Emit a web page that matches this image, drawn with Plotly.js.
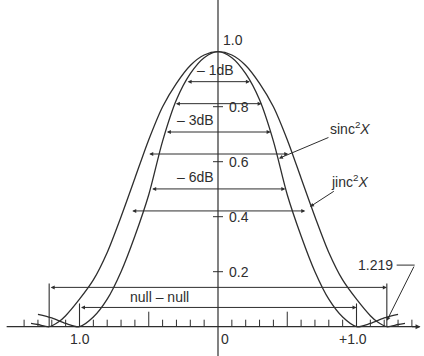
<!DOCTYPE html>
<html>
<head>
<meta charset="utf-8">
<script src="https://cdn.plot.ly/plotly-3.0.1.min.js"></script>
<style>
  html, body { margin: 0; padding: 0; background: #fff; }
  #chart { width: 424px; height: 356px; }
</style>
</head>
<body>
<div id="chart"></div>
<script>
// Main-lobe profiles (relative amplitude) along the normalised X axis
const sincX = [-1.30, -1.20, -1.10, -1.00, -0.90, -0.80, -0.70, -0.60, -0.50, -0.40, -0.30, -0.20, -0.10, 0.00,
               0.10, 0.20, 0.30, 0.40, 0.50, 0.60, 0.70, 0.80, 0.90, 1.00, 1.10, 1.20, 1.30];
const sincY = [0.045, 0.032, 0.012, 0.000, 0.035, 0.100, 0.200, 0.330, 0.480, 0.675, 0.825, 0.920, 0.978, 1.000,
               0.978, 0.920, 0.825, 0.675, 0.480, 0.330, 0.200, 0.100, 0.035, 0.000, 0.012, 0.032, 0.045];

const jincX = [-1.35, -1.30, -1.219, -1.15, -1.10, -1.00, -0.90, -0.80, -0.70, -0.60, -0.50, -0.40, -0.30, -0.20, -0.10, 0.00,
               0.10, 0.20, 0.30, 0.40, 0.50, 0.60, 0.70, 0.80, 0.90, 1.00, 1.10, 1.15, 1.219, 1.30, 1.35];
const jincY = [0.012, 0.008, 0.000, 0.018, 0.040, 0.100, 0.170, 0.270, 0.400, 0.540, 0.680, 0.800, 0.885, 0.950, 0.988, 1.000,
               0.988, 0.950, 0.885, 0.800, 0.680, 0.540, 0.400, 0.270, 0.170, 0.100, 0.040, 0.018, 0.000, 0.008, 0.012];

// Beamwidth markers: level name, relative amplitude, half-width of each lobe
const dbLabels = ['– 1dB', '– 3dB', '– 6dB'];
const dbLevels = [0.891, 0.708, 0.501];
const sincHalfWidths = [0.23, 0.38, 0.486];
const jincHalfWidths = [0.315, 0.507, 0.63];

// First nulls
const sincNull = 1.0;
const jincNull = 1.219;

// Axis ticks and labels
const xMinorTicks = [-1.4, -1.3, -1.2, -1.1, -0.9, -0.8, -0.7, -0.6, -0.4, -0.3, -0.2, -0.1,
                     0.1, 0.2, 0.3, 0.4, 0.6, 0.7, 0.8, 0.9, 1.1, 1.2, 1.3, 1.4];
const xMajorTicks = [-1.0, -0.5, 0.5, 1.0];
const xTickVals = [-1.0, 0, 1.0];
const xTickText = ['1.0', '0', '+1.0'];
const yTickVals = [0.2, 0.4, 0.6, 0.8, 1.0];
const yTickText = ['0.2', '0.4', '0.6', '0.8', '1.0'];

const INK = '#2e2e2e';
const FONT = { family: '"Liberation Sans", Arial, Helvetica, sans-serif', size: 14, color: INK };

// scale helpers: data units per pixel
const PX_X = 1 / 138.5;
const PX_Y = 1 / 275;

const traces = [];
traces.push({
  x: sincX, y: sincY, type: 'scatter', mode: 'lines', name: 'sinc²X',
  line: { color: INK, width: 1.3, shape: 'spline', smoothing: 0.8 }, hoverinfo: 'skip'
});
traces.push({
  x: jincX, y: jincY, type: 'scatter', mode: 'lines', name: 'jinc²X',
  line: { color: INK, width: 1.3, shape: 'spline', smoothing: 0.8 }, hoverinfo: 'skip'
});

// Tick marks along the X axis (short ones every 0.1, long ones every 0.5)
const tx = [], ty = [];
xMinorTicks.forEach(v => { tx.push(v, v, null); ty.push(0, 7 * PX_Y, null); });
xMajorTicks.forEach(v => { tx.push(v, v, null); ty.push(0, 15 * PX_Y, null); });
// short crossing ticks on the vertical axis
yTickVals.slice(0, 4).forEach(v => { tx.push(-5 * PX_X, 5 * PX_X, null); ty.push(v, v, null); });
traces.push({
  x: tx, y: ty, type: 'scatter', mode: 'lines',
  line: { color: INK, width: 1 }, hoverinfo: 'skip', showlegend: false
});

const shapes = [];
const annotations = [];

// Axes
shapes.push({ type: 'line', xref: 'x', yref: 'y', x0: -1.526, x1: 1.455, y0: 0, y1: 0,
              line: { color: INK, width: 1.2 } });
shapes.push({ type: 'line', xref: 'x', yref: 'paper', x0: 0, x1: 0, y0: 0, y1: 1,
              line: { color: INK, width: 1.2 } });
annotations.push({ x: 1.462, y: 0, ax: -10, ay: 0, text: '', showarrow: true,
                   arrowhead: 2, arrowsize: 0.9, arrowwidth: 1.1, arrowcolor: INK });

function dblArrow(x0, x1, y) {
  annotations.push({
    x: x1, y: y, ax: x0, ay: y, axref: 'x', ayref: 'y', xref: 'x', yref: 'y',
    text: '', showarrow: true, arrowside: 'end+start',
    arrowhead: 2, arrowsize: 0.8, arrowwidth: 1, arrowcolor: INK, standoff: 0, startstandoff: 0
  });
}

// dB beamwidth markers: upper line spans sinc², lower line spans jinc²
const labelX = [-0.02, -0.166, -0.166];
dbLevels.forEach((lvl, i) => {
  dblArrow(-sincHalfWidths[i], sincHalfWidths[i], lvl);
  dblArrow(-jincHalfWidths[i], jincHalfWidths[i], lvl - 22 * PX_Y);
  annotations.push({ x: labelX[i], y: lvl, yanchor: 'bottom', yshift: 2, text: dbLabels[i],
                     showarrow: false, font: FONT });
});

// Null-to-null widths
const jincNullY = 0.143, sincNullY = 0.07;
dblArrow(-jincNull, jincNull, jincNullY);
dblArrow(-sincNull, sincNull, sincNullY);
[-jincNull, jincNull].forEach(v => shapes.push({ type: 'line', xref: 'x', yref: 'y',
  x0: v, x1: v, y0: 0, y1: jincNullY + 4 * PX_Y, line: { color: INK, width: 1.1 } }));
[-sincNull, sincNull].forEach(v => shapes.push({ type: 'line', xref: 'x', yref: 'y',
  x0: v, x1: v, y0: 0, y1: sincNullY + 4 * PX_Y, line: { color: INK, width: 1.1 } }));
annotations.push({ x: -0.42, y: (jincNullY + sincNullY) / 2, text: 'null – null',
                   showarrow: false, font: FONT });

// Curve names with leaders
annotations.push({ x: 0.44, y: 0.612, ax: 71, ay: -30, text: 'sinc<sup>2</sup><i>X</i>',
                   showarrow: true, arrowhead: 2, arrowsize: 0.8, arrowwidth: 1, arrowcolor: INK,
                   font: FONT });
annotations.push({ x: 0.664, y: 0.436, ax: 40, ay: -26, text: 'jinc<sup>2</sup><i>X</i>',
                   showarrow: true, arrowhead: 2, arrowsize: 0.8, arrowwidth: 1, arrowcolor: INK,
                   font: FONT });

// 1.219 call-out with an elbow leader
annotations.push({ x: 1.14, y: 0.224, text: String(jincNull), showarrow: false, font: FONT });
shapes.push({ type: 'line', xref: 'x', yref: 'y', x0: 1.29, x1: 1.42, y0: 0.224, y1: 0.224,
              line: { color: INK, width: 1 } });
annotations.push({ x: jincNull, y: 0.022, ax: 1.42, ay: 0.224, axref: 'x', ayref: 'y',
                   text: '', showarrow: true, arrowhead: 2, arrowsize: 0.8, arrowwidth: 1,
                   arrowcolor: INK, standoff: 0 });

// Tick labels
const xShift = [0, 7, -4];
xTickVals.forEach((v, i) => annotations.push({ x: v, y: 0, yshift: -12, xshift: xShift[i],
  text: xTickText[i], showarrow: false, font: FONT }));
yTickVals.forEach((v, i) => annotations.push({ x: 0, y: v, xanchor: 'left',
  xshift: v === 1.0 ? 3 : 9, yshift: v === 1.0 ? 12 : 0,
  text: yTickText[i], showarrow: false, font: FONT }));

const layout = {
  width: 424, height: 356,
  margin: { l: 0, r: 0, t: 0, b: 0 },
  paper_bgcolor: '#fff', plot_bgcolor: '#fff',
  showlegend: false,
  xaxis: { range: [-218 * PX_X, 206 * PX_X], visible: false, fixedrange: true },
  yaxis: { range: [-29.3 * PX_Y, 326.7 * PX_Y], visible: false, fixedrange: true },
  shapes: shapes,
  annotations: annotations
};

Plotly.newPlot('chart', traces, layout, { staticPlot: true, displayModeBar: false });
</script>
</body>
</html>
